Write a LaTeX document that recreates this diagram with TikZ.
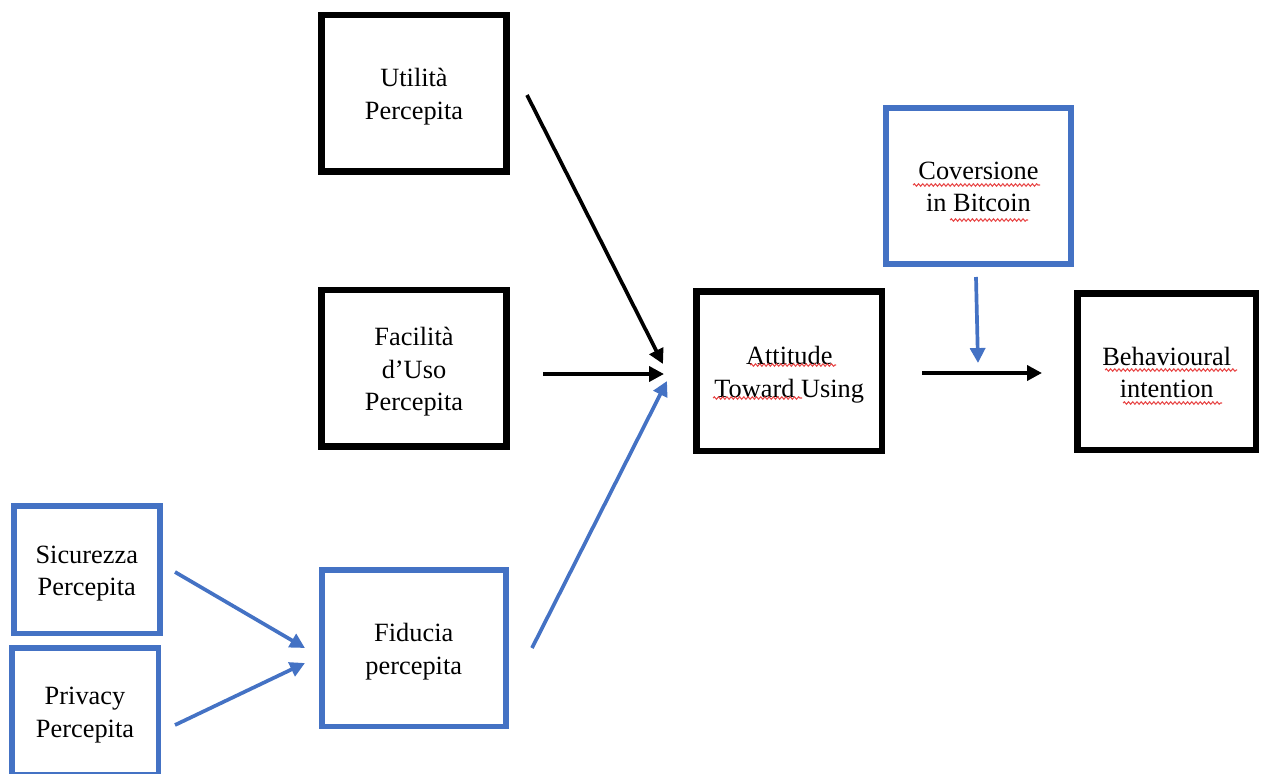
\documentclass[tikz,border=0pt]{standalone}
\usepackage{fontspec}
\setmainfont{Liberation Serif}
\usetikzlibrary{arrows.meta,decorations.pathmorphing}
\definecolor{obl}{RGB}{68,114,196}
\definecolor{sqred}{RGB}{232,72,72}
\newcommand{\boxtext}[1]{\raisebox{-1.9pt}[\height][\depth]{\begin{tabular}{@{}c@{}}#1\end{tabular}}}
\begin{document}
\begin{tikzpicture}[x=0.02cm,y=-0.02cm,
  box/.style={draw=black,line width=3.6pt,fill=white,align=center,inner sep=0pt,font=\fontsize{15}{18.4}\selectfont},
  bbox/.style={box,draw=obl,line width=3.4pt},
  arr/.style={line width=2.1pt,-{Triangle[length=8.5pt,width=8.5pt]}},
  barr/.style={arr,color=obl},
  squig/.style={draw=sqred,line width=0.6pt,decorate,decoration={snake,segment length=2.4pt,amplitude=0.7pt}}
]
\useasboundingbox (0,0) rectangle (1261,774);
% boxes
\node[box, minimum width=3.7cm, minimum height=3.13cm] (util) at (414,93.25) {\boxtext{Utilità\\Percepita}};
\node[box, minimum width=3.7cm, minimum height=3.13cm] (facil) at (414,368.25) {\boxtext{Facilità\\d’Uso\\Percepita}};
\node[bbox, minimum width=3.69cm, minimum height=3.13cm] (fid) at (413.75,648.25) {\boxtext{Fiducia\\percepita}};
\node[bbox, minimum width=2.93cm, minimum height=2.56cm] (sic) at (86.75,569.5) {\boxtext{Sicurezza\\Percepita}};
\node[bbox, minimum width=2.94cm, minimum height=2.55cm] (priv) at (85,711.25) {\boxtext{Privacy\\Percepita}};
\node[box, minimum width=3.71cm, minimum height=3.19cm] (att) at (789.25,371.25) {\boxtext{Attitude\\Toward Using}};
\node[bbox, minimum width=3.7cm, minimum height=3.12cm] (conv) at (978.5,186) {\boxtext{Coversione\\in Bitcoin}};
\node[box, minimum width=3.57cm, minimum height=3.13cm] (behav) at (1166.75,371.75) {\boxtext{Behavioural\\intention}};
% connector end points
\coordinate (u1) at (527,95);
\coordinate (a1) at (663,364);
\coordinate (f1) at (543,374);
\coordinate (a2) at (664,374);
\coordinate (fi1) at (532,648);
\coordinate (a3) at (667,381);
\coordinate (s1) at (175,572);
\coordinate (fi2) at (305,648);
\coordinate (p1) at (175,725);
\coordinate (fi3) at (305,663);
\coordinate (c1) at (976,277);
\coordinate (c2) at (978,363);
\coordinate (at1) at (922,373);
\coordinate (b1) at (1042,373);
% connectors
\draw[arr] (u1) -- (a1);
\draw[arr] (f1) -- (a2);
\draw[barr] (fi1) -- (a3);
\draw[barr] (s1) -- (fi2);
\draw[barr] (p1) -- (fi3);
\draw[barr] (c1) -- (c2);
\draw[arr] (at1) -- (b1);
% spell-check squiggles
\draw[squig] (750,365) -- (836,365);
\draw[squig] (713,398) -- (802,398);
\draw[squig] (913,185) -- (1040,185);
\draw[squig] (950,220) -- (1028,220);
\draw[squig] (1105,370) -- (1237,370);
\draw[squig] (1123,403) -- (1222,403);
\end{tikzpicture}
\end{document}
